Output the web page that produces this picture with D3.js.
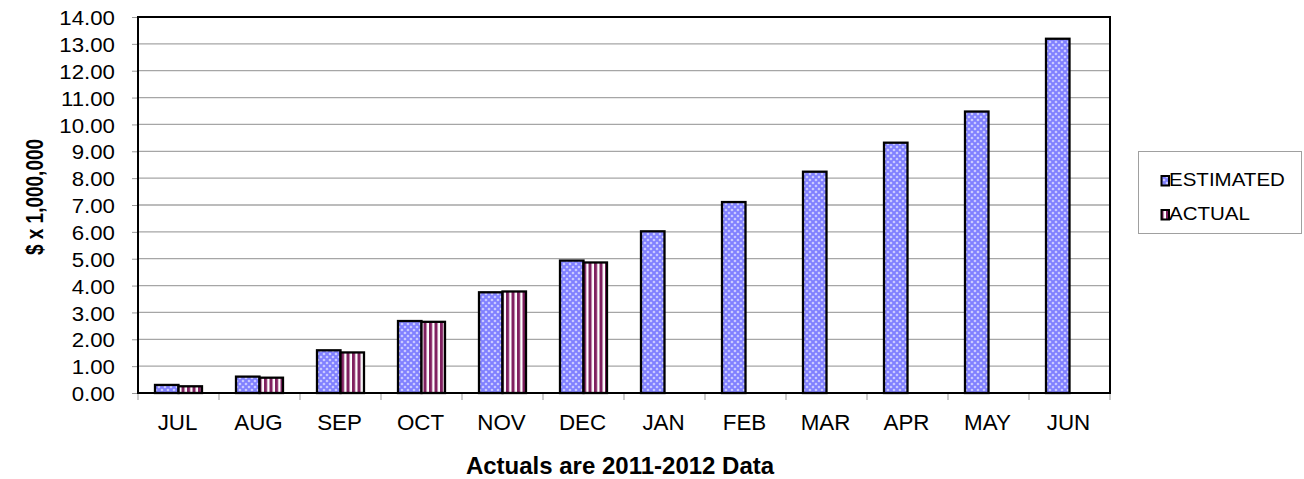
<!DOCTYPE html>
<html>
<head>
<meta charset="utf-8">
<script src="https://cdn.jsdelivr.net/npm/d3@7/dist/d3.min.js"></script>
<style>
  html, body { margin: 0; padding: 0; background: #fff; }
  svg { display: block; font-family: "Liberation Sans", Arial, sans-serif; }
</style>
</head>
<body>
<svg id="chart" width="1304" height="479"></svg>
<script>
// ---- data ----
const months = ["JUL","AUG","SEP","OCT","NOV","DEC","JAN","FEB","MAR","APR","MAY","JUN"];
const estimated = [0.30, 0.61, 1.59, 2.68, 3.75, 4.93, 6.02, 7.11, 8.24, 9.32, 10.48, 13.19];
const actual = [0.25, 0.57, 1.51, 2.65, 3.78, 4.86, null, null, null, null, null, null];
const seriesNames = ["ESTIMATED", "ACTUAL"];
const yTicks = [0,1,2,3,4,5,6,7,8,9,10,11,12,13,14];
const yTitle = "$ x 1,000,000";
const xTitle = "Actuals are 2011-2012 Data";

// ---- layout ----
const plot = { left: 138, right: 1110, top: 17, bottom: 393 };
const svg = d3.select("#chart");

const defs = svg.append("defs");
// estimated: blue diamond lattice
const pe = defs.append("pattern").attr("id","patEst").attr("patternUnits","userSpaceOnUse")
  .attr("width",6).attr("height",6);
pe.append("rect").attr("width",6).attr("height",6).attr("fill","#8080ff");
[[0,0],[6,0],[0,6],[6,6],[3,3]].forEach(([cx,cy]) => {
  pe.append("path").attr("d", `M${cx-1.6},${cy} L${cx},${cy-1.6} L${cx+1.6},${cy} L${cx},${cy+1.6} Z`).attr("fill","#d2d2ff");
});
// actual: vertical purple stripes
const pa = defs.append("pattern").attr("id","patAct").attr("patternUnits","userSpaceOnUse")
  .attr("width",5.5).attr("height",6);
pa.append("rect").attr("width",5.5).attr("height",6).attr("fill","#ffffff");
pa.append("rect").attr("x",0).attr("width",3.1).attr("height",6).attr("fill","#802060");

const x = d3.scaleBand().domain(months).range([plot.left, plot.right]).padding(0);
const bw = x.bandwidth();
const xs = d3.scaleBand().domain(seriesNames).range([bw*0.21, bw*0.79]).padding(0);
const y = d3.scaleLinear().domain([0, 14]).range([plot.bottom, plot.top]);

// gridlines
svg.append("g").selectAll("line").data(yTicks.filter(t => t > 0 && t < 14)).join("line")
  .attr("x1", plot.left).attr("x2", plot.right)
  .attr("y1", d => y(d)).attr("y2", d => y(d))
  .attr("stroke", "#a6a6a6").attr("stroke-width", 1.3);

// y axis ticks + labels
const yAxis = d3.axisLeft(y).tickValues(yTicks).tickSize(6).tickFormat(d3.format(".2f"));
const gy = svg.append("g").attr("transform", `translate(${plot.left},0)`).call(yAxis);
gy.select(".domain").remove();
gy.selectAll(".tick line").attr("stroke", "#999").attr("stroke-width", 1);
gy.selectAll(".tick text").attr("font-size", 21).attr("fill", "#000")
  .attr("font-family", "'Liberation Sans', Arial, sans-serif")
  .attr("x", 0).attr("dy", null).attr("y", 7.6)
  .attr("text-anchor", "end")
  .attr("transform", "translate(-23,0) scale(1.06,1)");

// x axis ticks at category boundaries
const gx = svg.append("g").attr("transform", `translate(0,${plot.bottom})`);
gx.selectAll("line").data(months.concat(["END"])).join("line")
  .attr("x1", (d,i) => plot.left + i*bw).attr("x2", (d,i) => plot.left + i*bw)
  .attr("y1", 0).attr("y2", 7).attr("stroke", "#999").attr("stroke-width", 1);
gx.selectAll("text").data(months).join("text")
  .attr("transform", d => `translate(${x(d) + bw/2 - 1},${37}) scale(1.04,1)`)
  .attr("text-anchor", "middle").attr("font-size", 21.5).attr("fill", "#000")
  .text(d => d);

// bars
const rows = months.map((m, i) => ({ m, ESTIMATED: estimated[i], ACTUAL: actual[i] }));
const barsG = svg.append("g");
rows.forEach(r => {
  seriesNames.forEach(s => {
    const v = r[s];
    if (v == null) return;
    barsG.append("rect")
      .attr("x", x(r.m) + xs(s))
      .attr("y", y(v))
      .attr("width", xs.bandwidth())
      .attr("height", y(0) - y(v))
      .attr("fill", s === "ESTIMATED" ? "url(#patEst)" : "url(#patAct)")
      .attr("stroke", "#000").attr("stroke-width", 2.3);
  });
});

// plot frame
svg.append("rect").attr("x", plot.left).attr("y", plot.top)
  .attr("width", plot.right - plot.left).attr("height", plot.bottom - plot.top)
  .attr("fill", "none").attr("stroke", "#000").attr("stroke-width", 2);

// axis titles
svg.append("text")
  .attr("transform", `translate(${plot.left + (plot.right-plot.left)/2 - 4},474)`)
  .attr("text-anchor", "middle").attr("font-size", 24).attr("font-weight", "bold").attr("fill", "#000")
  .text(xTitle);
svg.append("text")
  .attr("transform", `translate(43,197) rotate(-90) scale(1,1.3)`)
  .attr("text-anchor", "middle").attr("font-size", 19).attr("font-weight", "bold").attr("fill", "#000")
  .text(yTitle);

// legend
const lg = svg.append("g");
lg.append("rect").attr("x", 1138.5).attr("y", 151.5).attr("width", 163).attr("height", 82)
  .attr("fill", "#fff").attr("stroke", "#a0a0a0").attr("stroke-width", 1);
seriesNames.forEach((s, i) => {
  const base = 186 + i*34;
  lg.append("rect").attr("x", 1161.5).attr("y", base - 10).attr("width", 7.5).attr("height", 9.5)
    .attr("fill", s === "ESTIMATED" ? "url(#patEst)" : "url(#patAct)")
    .attr("stroke", "#000").attr("stroke-width", 2);
  lg.append("text")
    .attr("transform", `translate(1169,${base}) scale(1.14,1)`)
    .attr("font-size", 18).attr("fill", "#000").text(s);
});
</script>
</body>
</html>
